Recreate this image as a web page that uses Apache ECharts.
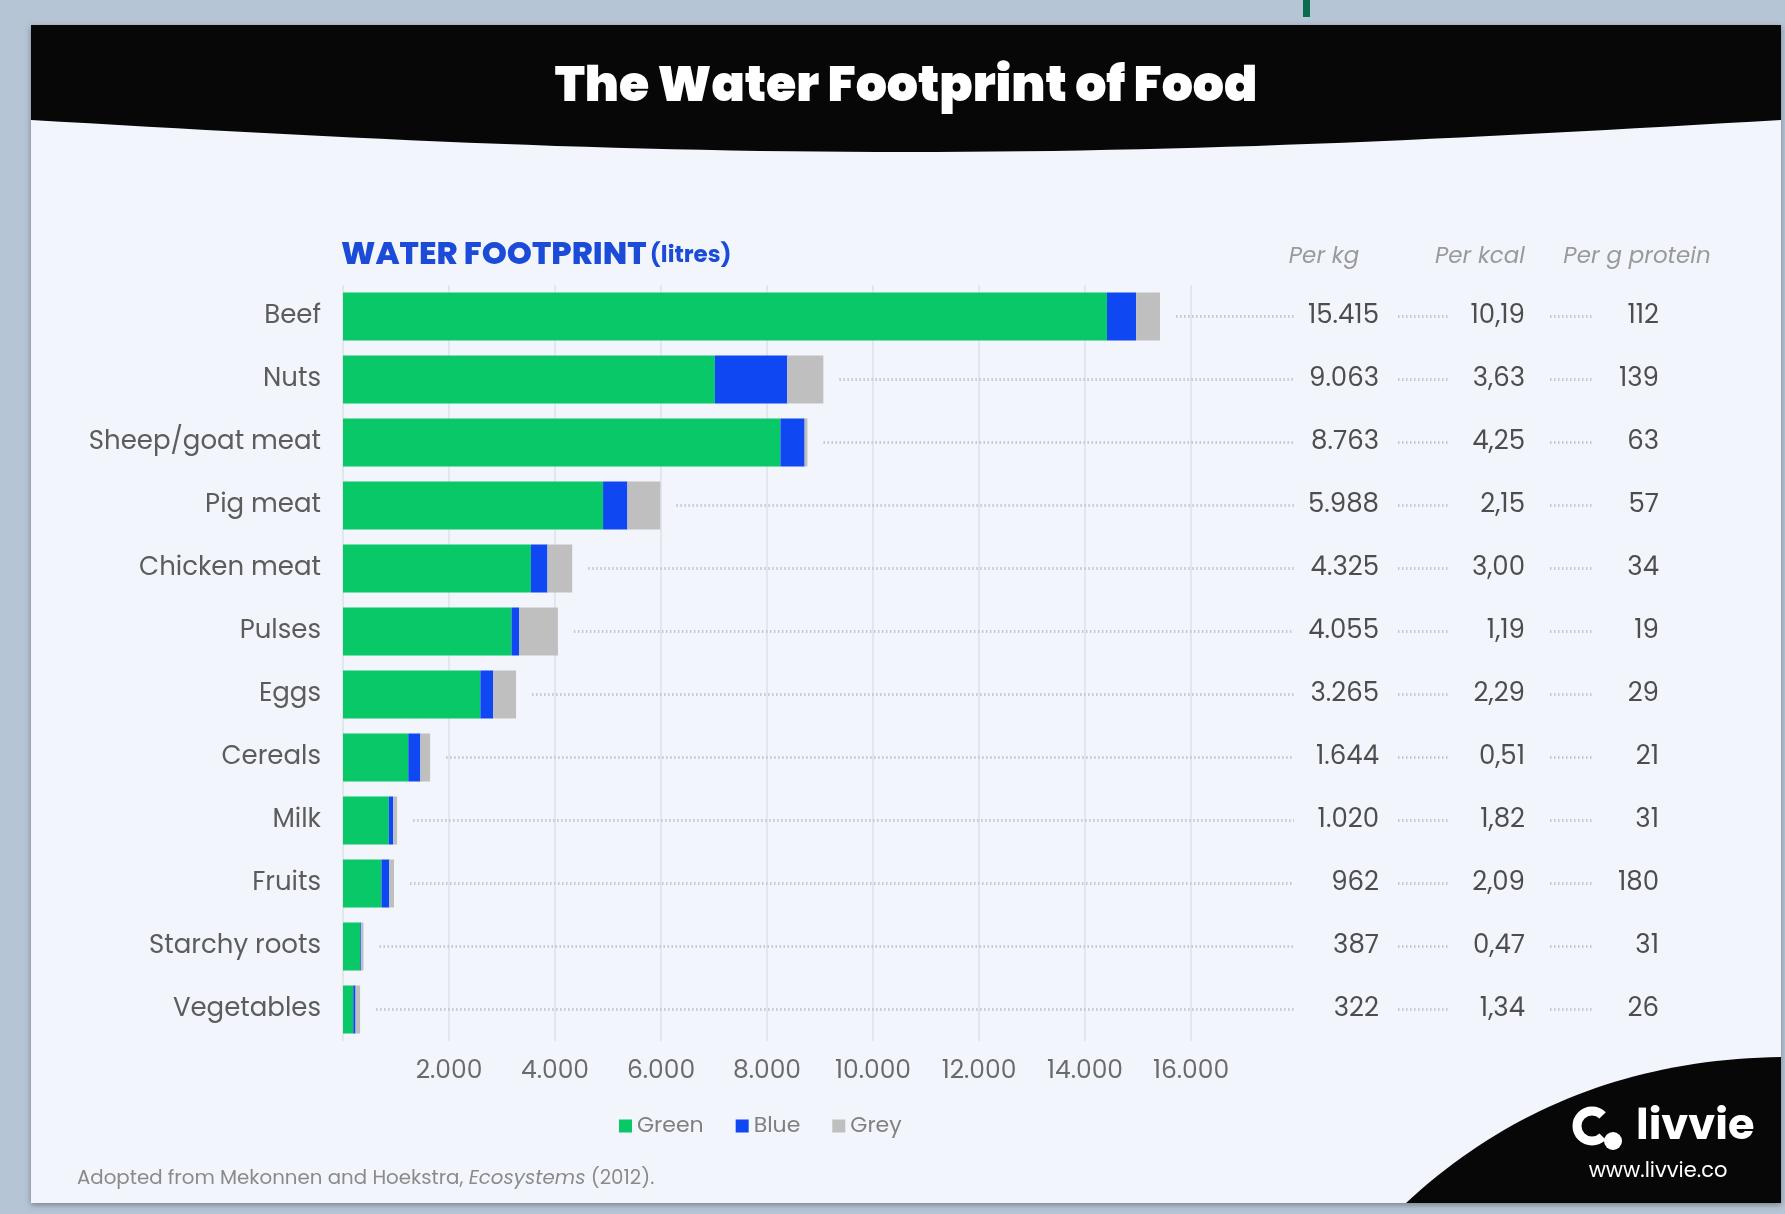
<!DOCTYPE html>
<html><head><meta charset="utf-8">
<script src="https://cdn.jsdelivr.net/npm/echarts@6/dist/echarts.min.js"></script>
<style>html,body{margin:0;padding:0;background:#b6c5d5;}#c{width:1785px;height:1214px;}</style>
</head><body><div id="c"></div>
<script>
// ---- data ----
const categories = ['Beef','Nuts','Sheep/goat meat','Pig meat','Chicken meat','Pulses','Eggs','Cereals','Milk','Fruits','Starchy roots','Vegetables'];
const greenWater = [14414,7016,8253,4907,3545,3180,2592,1232,863,726,327,194];
const blueWater  = [550,1367,457,459,313,141,244,228,86,147,16,43];
const greyWater  = [451,680,53,622,467,734,429,184,72,89,43,85];
const perKg      = [15415,9063,8763,5988,4325,4055,3265,1644,1020,962,387,322];
const perKcal    = [10.19,3.63,4.25,2.15,3.00,1.19,2.29,0.51,1.82,2.09,0.47,1.34];
const perProtein = [112,139,63,57,34,19,29,21,31,180,31,26];
const xMin = 0, xMax = 16000, xStep = 2000;
const seriesNames = ['Green','Blue','Grey'];
const columnHeaders = ['Per kg','Per kcal','Per g protein'];

// ---- helpers ----
const FONT = 'Poppins, Inter, "Noto Sans", sans-serif';
const fmtK = n => String(n).replace(/\B(?=(\d{3})+(?!\d))/g, '.');
const fmtD = v => v.toFixed(2).replace('.', ',');
const COLORS = ['#08c867','#0f47f2','#bfbfbf'];

// decorative shapes
const headerPts = [[31,25],[1781,25]];
for (let k = 0; k <= 60; k++) {
  const t = k / 60;
  headerPts.push([1781 - t * 1750, 120 + 32 * Math.sin(Math.PI * t)]);
}
const cornerPts = [];
for (let k = 0; k <= 40; k++) {
  const t = k / 40;
  const x = (1-t)*(1-t)*1406 + 2*(1-t)*t*1560 + t*t*1781;
  const y = (1-t)*(1-t)*1203 + 2*(1-t)*t*1060 + t*t*1057;
  cornerPts.push([x, y]);
}
cornerPts.push([1781,1203]);

const chart = echarts.init(document.getElementById('c'));
const lead = {stroke:'#c4c9d1', lineWidth:3, lineDash:[1.5,2.5]};
function txt(s, x, y) {
  return {type:'text', x:x, y:y, style:{text:s, align:'right', verticalAlign:'middle', fill:'#4d4d4d', fontSize:26, fontFamily:FONT}};
}

chart.setOption({
  backgroundColor: '#b6c5d5',
  animation: false,
  grid: {left:343, right:594, top:285, bottom:173, containLabel:false},
  legend: {
    data: seriesNames, icon:'rect', itemWidth:13, itemHeight:13, itemGap:32,
    left:614, top:1110,
    textStyle:{fontSize:22, color:'#808080', fontFamily:FONT}
  },
  xAxis: {
    type:'value', min:xMin, max:xMax, interval:xStep,
    axisLine:{show:false}, axisTick:{show:false},
    splitLine:{show:true, lineStyle:{color:'#dde2ea', width:1.5}},
    axisLabel:{formatter:v => v === 0 ? '' : fmtK(v), fontSize:25, color:'#6a6a6a', margin:18, fontFamily:FONT}
  },
  yAxis: {
    type:'category', data:categories, inverse:true,
    axisLine:{show:false}, axisTick:{show:false},
    axisLabel:{fontSize:26, color:'#5c5c5c', margin:22, fontFamily:FONT}
  },
  series: [
    {name:'Green', type:'bar', stack:'w', data:greenWater, barWidth:48, itemStyle:{color:COLORS[0]}},
    {name:'Blue',  type:'bar', stack:'w', data:blueWater,  barWidth:48, itemStyle:{color:COLORS[1]}},
    {name:'Grey',  type:'bar', stack:'w', data:greyWater,  barWidth:48, itemStyle:{color:COLORS[2]}},
    {
      name:'table', type:'custom', silent:true,
      data: categories.map((c,i) => [greenWater[i]+blueWater[i]+greyWater[i], i]),
      encode:{x:0, y:1},
      renderItem: function(params, api) {
        const i = api.value(1);
        const p = api.coord([api.value(0), i]);
        const y = p[1];
        return {type:'group', children:[
          {type:'line', shape:{x1:p[0]+16, y1:y, x2:1294, y2:y}, style:lead},
          txt(fmtK(perKg[i]), 1379, y),
          {type:'line', shape:{x1:1398, y1:y, x2:1448, y2:y}, style:lead},
          txt(fmtD(perKcal[i]), 1525, y),
          {type:'line', shape:{x1:1550, y1:y, x2:1594, y2:y}, style:lead},
          txt(String(perProtein[i]), 1659, y)
        ]};
      }
    }
  ],
  graphic: [
    {type:'rect', z:-100, shape:{x:31, y:25, width:1750, height:1178}, style:{fill:'#f2f6fc', shadowBlur:6, shadowColor:'rgba(0,0,0,0.35)', shadowOffsetY:2}},
    {type:'polygon', z:-90, shape:{points:headerPts}, style:{fill:'#070707'}},
    {type:'polygon', z:-90, shape:{points:cornerPts}, style:{fill:'#070707'}},
    {type:'rect', z:-90, shape:{x:1303, y:0, width:7, height:17}, style:{fill:'#0b6b4f'}},
    {type:'text', z:100, x:906, y:89, style:{text:'The Water Footprint of Food', align:'center', verticalAlign:'middle', fill:'#ffffff', fontSize:49, fontWeight:900, fontFamily:FONT}},
    {type:'text', z:100, x:341, y:256, style:{
      text:'{a|WATER FOOTPRINT} {b|(litres)}', align:'left', verticalAlign:'middle',
      rich:{a:{fontSize:32, fontWeight:800, fill:'#1c4bd8', fontFamily:FONT}, b:{fontSize:23, fontWeight:700, fill:'#1c4bd8', fontFamily:FONT}}
    }},
    {type:'text', z:100, x:1324, y:257, style:{text:columnHeaders[0], align:'center', verticalAlign:'middle', fill:'#9a9a9a', fontSize:23, fontStyle:'italic', fontFamily:FONT}},
    {type:'text', z:100, x:1480, y:257, style:{text:columnHeaders[1], align:'center', verticalAlign:'middle', fill:'#9a9a9a', fontSize:23, fontStyle:'italic', fontFamily:FONT}},
    {type:'text', z:100, x:1637, y:257, style:{text:columnHeaders[2], align:'center', verticalAlign:'middle', fill:'#9a9a9a', fontSize:23, fontStyle:'italic', fontFamily:FONT}},
    {type:'text', z:100, x:77, y:1179, style:{
      text:'Adopted from Mekonnen and Hoekstra, {i|Ecosystems} (2012).', align:'left', verticalAlign:'middle',
      fill:'#8a8a8a', fontSize:19.8, fontFamily:FONT,
      rich:{i:{fontStyle:'italic', fontSize:19.8, fill:'#8a8a8a', fontFamily:FONT}}
    }},
    {type:'arc', z:100, shape:{cx:1592, cy:1126, r:15, startAngle:Math.PI*0.25, endAngle:Math.PI*1.75, clockwise:true}, style:{stroke:'#fff', lineWidth:9, fill:null}},
    {type:'circle', z:100, shape:{cx:1613, cy:1141, r:9}, style:{fill:'#fff'}},
    {type:'text', z:100, x:1636, y:1128, style:{text:'livvie', align:'left', verticalAlign:'middle', fill:'#ffffff', fontSize:43, fontWeight:700, fontFamily:FONT}},
    {type:'text', z:100, x:1658, y:1172, style:{text:'www.livvie.co', align:'center', verticalAlign:'middle', fill:'#ffffff', fontSize:21, fontFamily:FONT}}
  ]
});
</script></body></html>
